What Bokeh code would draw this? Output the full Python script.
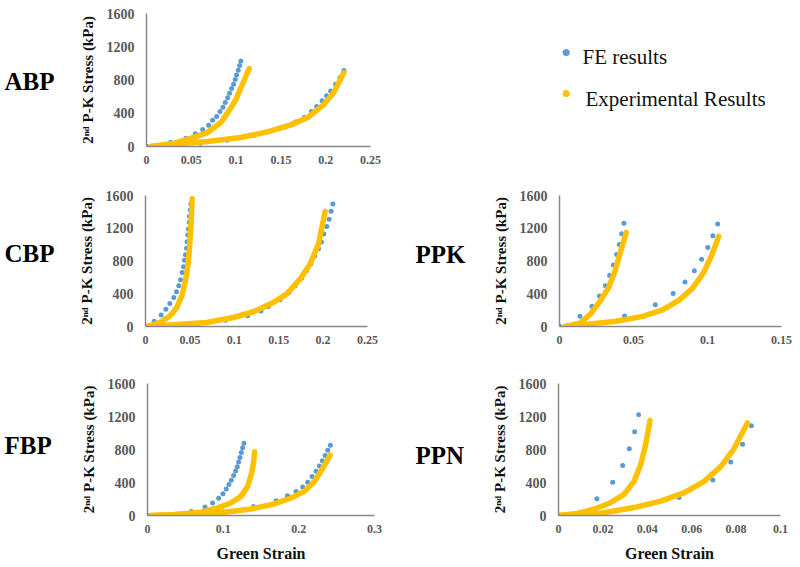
from bokeh.plotting import figure
from bokeh.layouts import row, column
from bokeh.models import Range1d, FixedTicker
from bokeh.core.properties import value
from bokeh.embed import file_html
from bokeh.resources import INLINE

# ---------------- data ----------------
y_ticks = [0, 400, 800, 1200, 1600]
y_tick_labels = ["0", "400", "800", "1200", "1600"]
y_label = "2ⁿᵈ P-K Stress (kPa)"
x_label = "Green Strain"
legend_labels = ["FE results", "Experimental Results"]
panel_names = ["ABP", "CBP", "FBP", "PPK", "PPN"]

# ABP
abp_xticks = [0, 0.05, 0.1, 0.15, 0.2, 0.25]
abp_xtick_labels = ["0", "0.05", "0.1", "0.15", "0.2", "0.25"]
abp_fe1_x = [0, 0.027, 0.044, 0.0545, 0.0627, 0.0694, 0.0738, 0.0783, 0.082, 0.0853, 0.0879, 0.0905, 0.0927, 0.095, 0.0972, 0.099, 0.1005, 0.1024, 0.1039, 0.1053]
abp_fe1_y = [0, 52, 100, 152, 204, 256, 316, 360, 420, 472, 528, 585, 641, 697, 749, 805, 861, 917, 973, 1029]
abp_exp1_x = [0.005, 0.031, 0.050, 0.068, 0.083, 0.092, 0.100, 0.105, 0.110, 0.1146]
abp_exp1_y = [0, 40, 100, 168, 288, 428, 569, 700, 821, 937]
abp_fe2_x = [0, 0.03, 0.06, 0.09, 0.12, 0.14, 0.155, 0.166, 0.176, 0.184, 0.190, 0.196, 0.201, 0.2055, 0.211, 0.216, 0.2203]
abp_fe2_y = [0, 15, 40, 75, 135, 190, 236, 296, 348, 420, 480, 549, 610, 669, 750, 830, 913]
abp_exp2_x = [0.005, 0.031, 0.068, 0.105, 0.135, 0.161, 0.180, 0.198, 0.209, 0.2203]
abp_exp2_y = [0, 28, 60, 108, 176, 260, 348, 508, 649, 889]

# CBP
cbp_xticks = [0, 0.05, 0.1, 0.15, 0.2, 0.25]
cbp_xtick_labels = ["0", "0.05", "0.1", "0.15", "0.2", "0.25"]
cbp_fe1_x = [0, 0.0098, 0.0176, 0.0229, 0.0274, 0.0319, 0.0349, 0.0375, 0.0394, 0.0413, 0.0428, 0.0439, 0.045, 0.0462, 0.0469, 0.0477, 0.0484, 0.0492, 0.0495, 0.0503, 0.051]
cbp_fe1_y = [0, 65, 139, 212, 282, 355, 424, 498, 571, 661, 730, 808, 877, 955, 1036, 1118, 1191, 1273, 1346, 1424, 1497]
cbp_exp1_x = [0.002, 0.0165, 0.0278, 0.0353, 0.0409, 0.0447, 0.0477, 0.0495, 0.051, 0.0525]
cbp_exp1_y = [0, 49, 131, 233, 375, 539, 743, 947, 1191, 1559]
cbp_fe2_x = [0, 0.03, 0.06, 0.09, 0.115, 0.13, 0.1385, 0.1517, 0.1618, 0.1685, 0.176, 0.1813, 0.1862, 0.1907, 0.1948, 0.1982, 0.2008, 0.2042, 0.2068, 0.209, 0.211]
cbp_fe2_y = [0, 15, 40, 75, 130, 190, 245, 326, 416, 498, 592, 681, 767, 861, 951, 1032, 1130, 1220, 1310, 1408, 1497]
cbp_exp2_x = [0.002, 0.0315, 0.069, 0.099, 0.1216, 0.144, 0.159, 0.174, 0.1854, 0.1948, 0.2023]
cbp_exp2_y = [0, 20, 49, 110, 180, 294, 396, 579, 763, 1008, 1404]

# FBP
fbp_xticks = [0, 0.1, 0.2, 0.3]
fbp_xtick_labels = ["0", "0.1", "0.2", "0.3"]
fbp_fe1_x = [0, 0.058, 0.076, 0.086, 0.094, 0.0997, 0.1041, 0.1076, 0.1107, 0.1138, 0.1165, 0.1187, 0.1204, 0.1222, 0.124, 0.1257, 0.1275]
fbp_fe1_y = [0, 48, 104, 152, 208, 264, 320, 376, 428, 484, 540, 592, 648, 704, 764, 820, 876]
fbp_exp1_x = [0.005, 0.035, 0.0706, 0.0926, 0.110, 0.1235, 0.1323, 0.1376, 0.1403, 0.1416]
fbp_exp1_y = [0, 12, 40, 92, 152, 232, 352, 512, 652, 772]
fbp_fe2_x = [0, 0.05, 0.1, 0.14, 0.17, 0.185, 0.1963, 0.2051, 0.2117, 0.2175, 0.2228, 0.2272, 0.2311, 0.2347, 0.2382, 0.2417]
fbp_fe2_y = [0, 15, 45, 110, 180, 240, 292, 344, 404, 472, 536, 600, 664, 728, 792, 852]
fbp_exp2_x = [0.005, 0.0573, 0.1015, 0.1367, 0.1676, 0.1897, 0.2073, 0.2206, 0.2316, 0.2413]
fbp_exp2_y = [0, 16, 40, 80, 140, 212, 292, 412, 572, 732]

# PPK
ppk_xticks = [0, 0.05, 0.1, 0.15]
ppk_xtick_labels = ["0", "0.05", "0.1", "0.15"]
ppk_fe1_x = [0, 0.0138, 0.0219, 0.027, 0.031, 0.0339, 0.0364, 0.0386, 0.0404, 0.042, 0.0435]
ppk_fe1_y = [0, 124, 247, 371, 499, 622, 750, 878, 1001, 1133, 1261]
ppk_exp1_x = [0.004, 0.0138, 0.0205, 0.0272, 0.0328, 0.0373, 0.0417, 0.0451]
ppk_exp1_y = [0, 40, 144, 303, 463, 662, 942, 1149]
ppk_fe2_x = [0, 0.044, 0.0647, 0.0768, 0.0848, 0.0911, 0.096, 0.1002, 0.1036, 0.1069]
ppk_fe2_y = [0, 128, 267, 403, 543, 682, 822, 966, 1109, 1253]
ppk_exp2_x = [0.004, 0.0205, 0.0384, 0.0562, 0.0696, 0.0808, 0.0897, 0.0975, 0.1031, 0.1076]
ppk_exp2_y = [0, 32, 64, 124, 203, 323, 463, 662, 882, 1101]

# PPN
ppn_xticks = [0, 0.02, 0.04, 0.06, 0.08, 0.1]
ppn_xtick_labels = ["0", "0.02", "0.04", "0.06", "0.08", "0.1"]
ppn_fe1_x = [0, 0.0173, 0.0244, 0.0289, 0.0319, 0.0343, 0.0361]
ppn_fe1_y = [0, 203, 402, 605, 808, 1015, 1222]
ppn_exp1_x = [0, 0.0084, 0.0159, 0.0235, 0.0295, 0.034, 0.037, 0.0392, 0.0412]
ppn_exp1_y = [0, 24, 76, 155, 255, 414, 613, 852, 1150]
ppn_fe2_x = [0, 0.0543, 0.0695, 0.0776, 0.0829, 0.0869]
ppn_fe2_y = [0, 219, 430, 649, 864, 1087]
ppn_exp2_x = [0, 0.019, 0.034, 0.046, 0.0565, 0.0656, 0.0731, 0.0791, 0.0851]
ppn_exp2_y = [0, 28, 96, 175, 275, 414, 593, 812, 1122]

# ---------------- styles ----------------
SERIF = "'Liberation Serif', serif"
BLUE = "#5B9BD5"
GOLD = "#FFC000"
AXIS_GRAY = "#898989"
TICK_GRAY = "#595959"


def make_panel(w, h, mbl, mbr, mbt, mbb, xmax, xticks, xtick_labels, fe, exp, show_xlabel=False):
    p = figure(width=w, height=h, x_range=Range1d(0, xmax), y_range=Range1d(0, 1600),
               output_backend="svg", toolbar_location=None,
               min_border_left=mbl, min_border_right=mbr,
               min_border_top=mbt, min_border_bottom=mbb)
    p.outline_line_color = None
    p.grid.visible = False
    p.xaxis.ticker = FixedTicker(ticks=xticks)
    p.xaxis.major_label_overrides = dict(zip(xticks, xtick_labels))
    p.yaxis.ticker = FixedTicker(ticks=y_ticks)
    p.yaxis.major_label_overrides = dict(zip(y_ticks, y_tick_labels))
    for ax in [p.xaxis[0], p.yaxis[0]]:
        ax.axis_line_color = AXIS_GRAY
        ax.axis_line_width = 1.5
        ax.major_tick_line_color = None
        ax.minor_tick_line_color = None
        ax.major_tick_out = 0
        ax.major_tick_in = 0
        ax.major_label_text_font = SERIF
        ax.major_label_text_font_style = "bold"
        ax.major_label_text_color = TICK_GRAY
        ax.axis_label_text_font = SERIF
        ax.axis_label_text_font_style = "bold"
        ax.axis_label_text_color = "#111111"
    p.xaxis[0].major_label_text_font_size = "12px"
    p.yaxis[0].major_label_text_font_size = "14px"
    p.xaxis[0].major_label_standoff = 9
    p.yaxis[0].major_label_standoff = 12
    p.yaxis[0].axis_label = y_label
    p.yaxis[0].axis_label_text_font_size = "15px"
    p.yaxis[0].axis_label_standoff = 8
    if show_xlabel:
        p.xaxis[0].axis_label = x_label
        p.xaxis[0].axis_label_text_font_size = "16px"
        p.xaxis[0].axis_label_standoff = 9
    for fx, fy in fe:
        p.scatter(fx, fy, size=5, color=BLUE, line_color=None)
    for ex, ey in exp:
        p.line(ex, ey, line_width=5.5, color=GOLD, line_cap="round", line_join="round")
    return p


def make_label(w, h, x, y, name):
    p = figure(width=w, height=h, x_range=Range1d(0, w), y_range=Range1d(h, 0),
               output_backend="svg", toolbar_location=None, min_border=0,
               x_axis_location=None, y_axis_location=None)
    p.outline_line_color = None
    p.grid.visible = False
    p.text(x=[x], y=[y], text=[name], text_font=value(SERIF), text_font_style="bold",
           text_font_size="25px", text_align="left", text_baseline="alphabetic", text_color="black")
    return p


def make_legend(w, h):
    p = figure(width=w, height=h, x_range=Range1d(0, w), y_range=Range1d(h, 0),
               output_backend="svg", toolbar_location=None, min_border=0,
               x_axis_location=None, y_axis_location=None)
    p.outline_line_color = None
    p.grid.visible = False
    p.scatter(x=[165.7], y=[52.7], size=7, color=BLUE, line_color=None)
    p.scatter(x=[165.7], y=[108.3], size=7, color=GOLD, line_color=None)
    p.text(x=[182, 185], y=[59.5, 115.2], text=legend_labels, text_font=value(SERIF),
           text_font_size="21px", text_align="left", text_baseline="alphabetic", text_color="#111111")
    return p


H1, H2, H3 = 180, 185, 201

abp = make_panel(330, H1, 76, 30, 13, 34, 0.25, abp_xticks, abp_xtick_labels,
                 [(abp_fe1_x, abp_fe1_y), (abp_fe2_x, abp_fe2_y)],
                 [(abp_exp1_x, abp_exp1_y), (abp_exp2_x, abp_exp2_y)])
cbp = make_panel(330, H2, 75, 33, 15, 39, 0.25, cbp_xticks, cbp_xtick_labels,
                 [(cbp_fe1_x, cbp_fe1_y), (cbp_fe2_x, cbp_fe2_y)],
                 [(cbp_exp1_x, cbp_exp1_y), (cbp_exp2_x, cbp_exp2_y)])
ppk = make_panel(314, H2, 81, 11, 15, 36, 0.15, ppk_xticks, ppk_xtick_labels,
                 [(ppk_fe1_x, ppk_fe1_y), (ppk_fe2_x, ppk_fe2_y)],
                 [(ppk_exp1_x, ppk_exp1_y), (ppk_exp2_x, ppk_exp2_y)])
fbp = make_panel(330, H3, 77, 26, 18, 50, 0.3, fbp_xticks, fbp_xtick_labels,
                 [(fbp_fe1_x, fbp_fe1_y), (fbp_fe2_x, fbp_fe2_y)],
                 [(fbp_exp1_x, fbp_exp1_y), (fbp_exp2_x, fbp_exp2_y)], show_xlabel=True)
ppn = make_panel(314, H3, 80, 12, 16, 51, 0.1, ppn_xticks, ppn_xtick_labels,
                 [(ppn_fe1_x, ppn_fe1_y), (ppn_fe2_x, ppn_fe2_y)],
                 [(ppn_exp1_x, ppn_exp1_y), (ppn_exp2_x, ppn_exp2_y)], show_xlabel=True)

lab_abp = make_label(70, H1, 4, 91.7, panel_names[0])
lab_cbp = make_label(70, H2, 4, 81.7, panel_names[1])
lab_fbp = make_label(70, H3, 4, 95, panel_names[2])
lab_ppk = make_label(78, H2, 15, 82.7, panel_names[3])
lab_ppn = make_label(78, H3, 15, 110, panel_names[4])
leg = make_legend(392, H1)

layout = column(
    row(lab_abp, abp, leg),
    row(lab_cbp, cbp, lab_ppk, ppk),
    row(lab_fbp, fbp, lab_ppn, ppn),
)

open("out.html", "w").write(file_html(layout, INLINE))
